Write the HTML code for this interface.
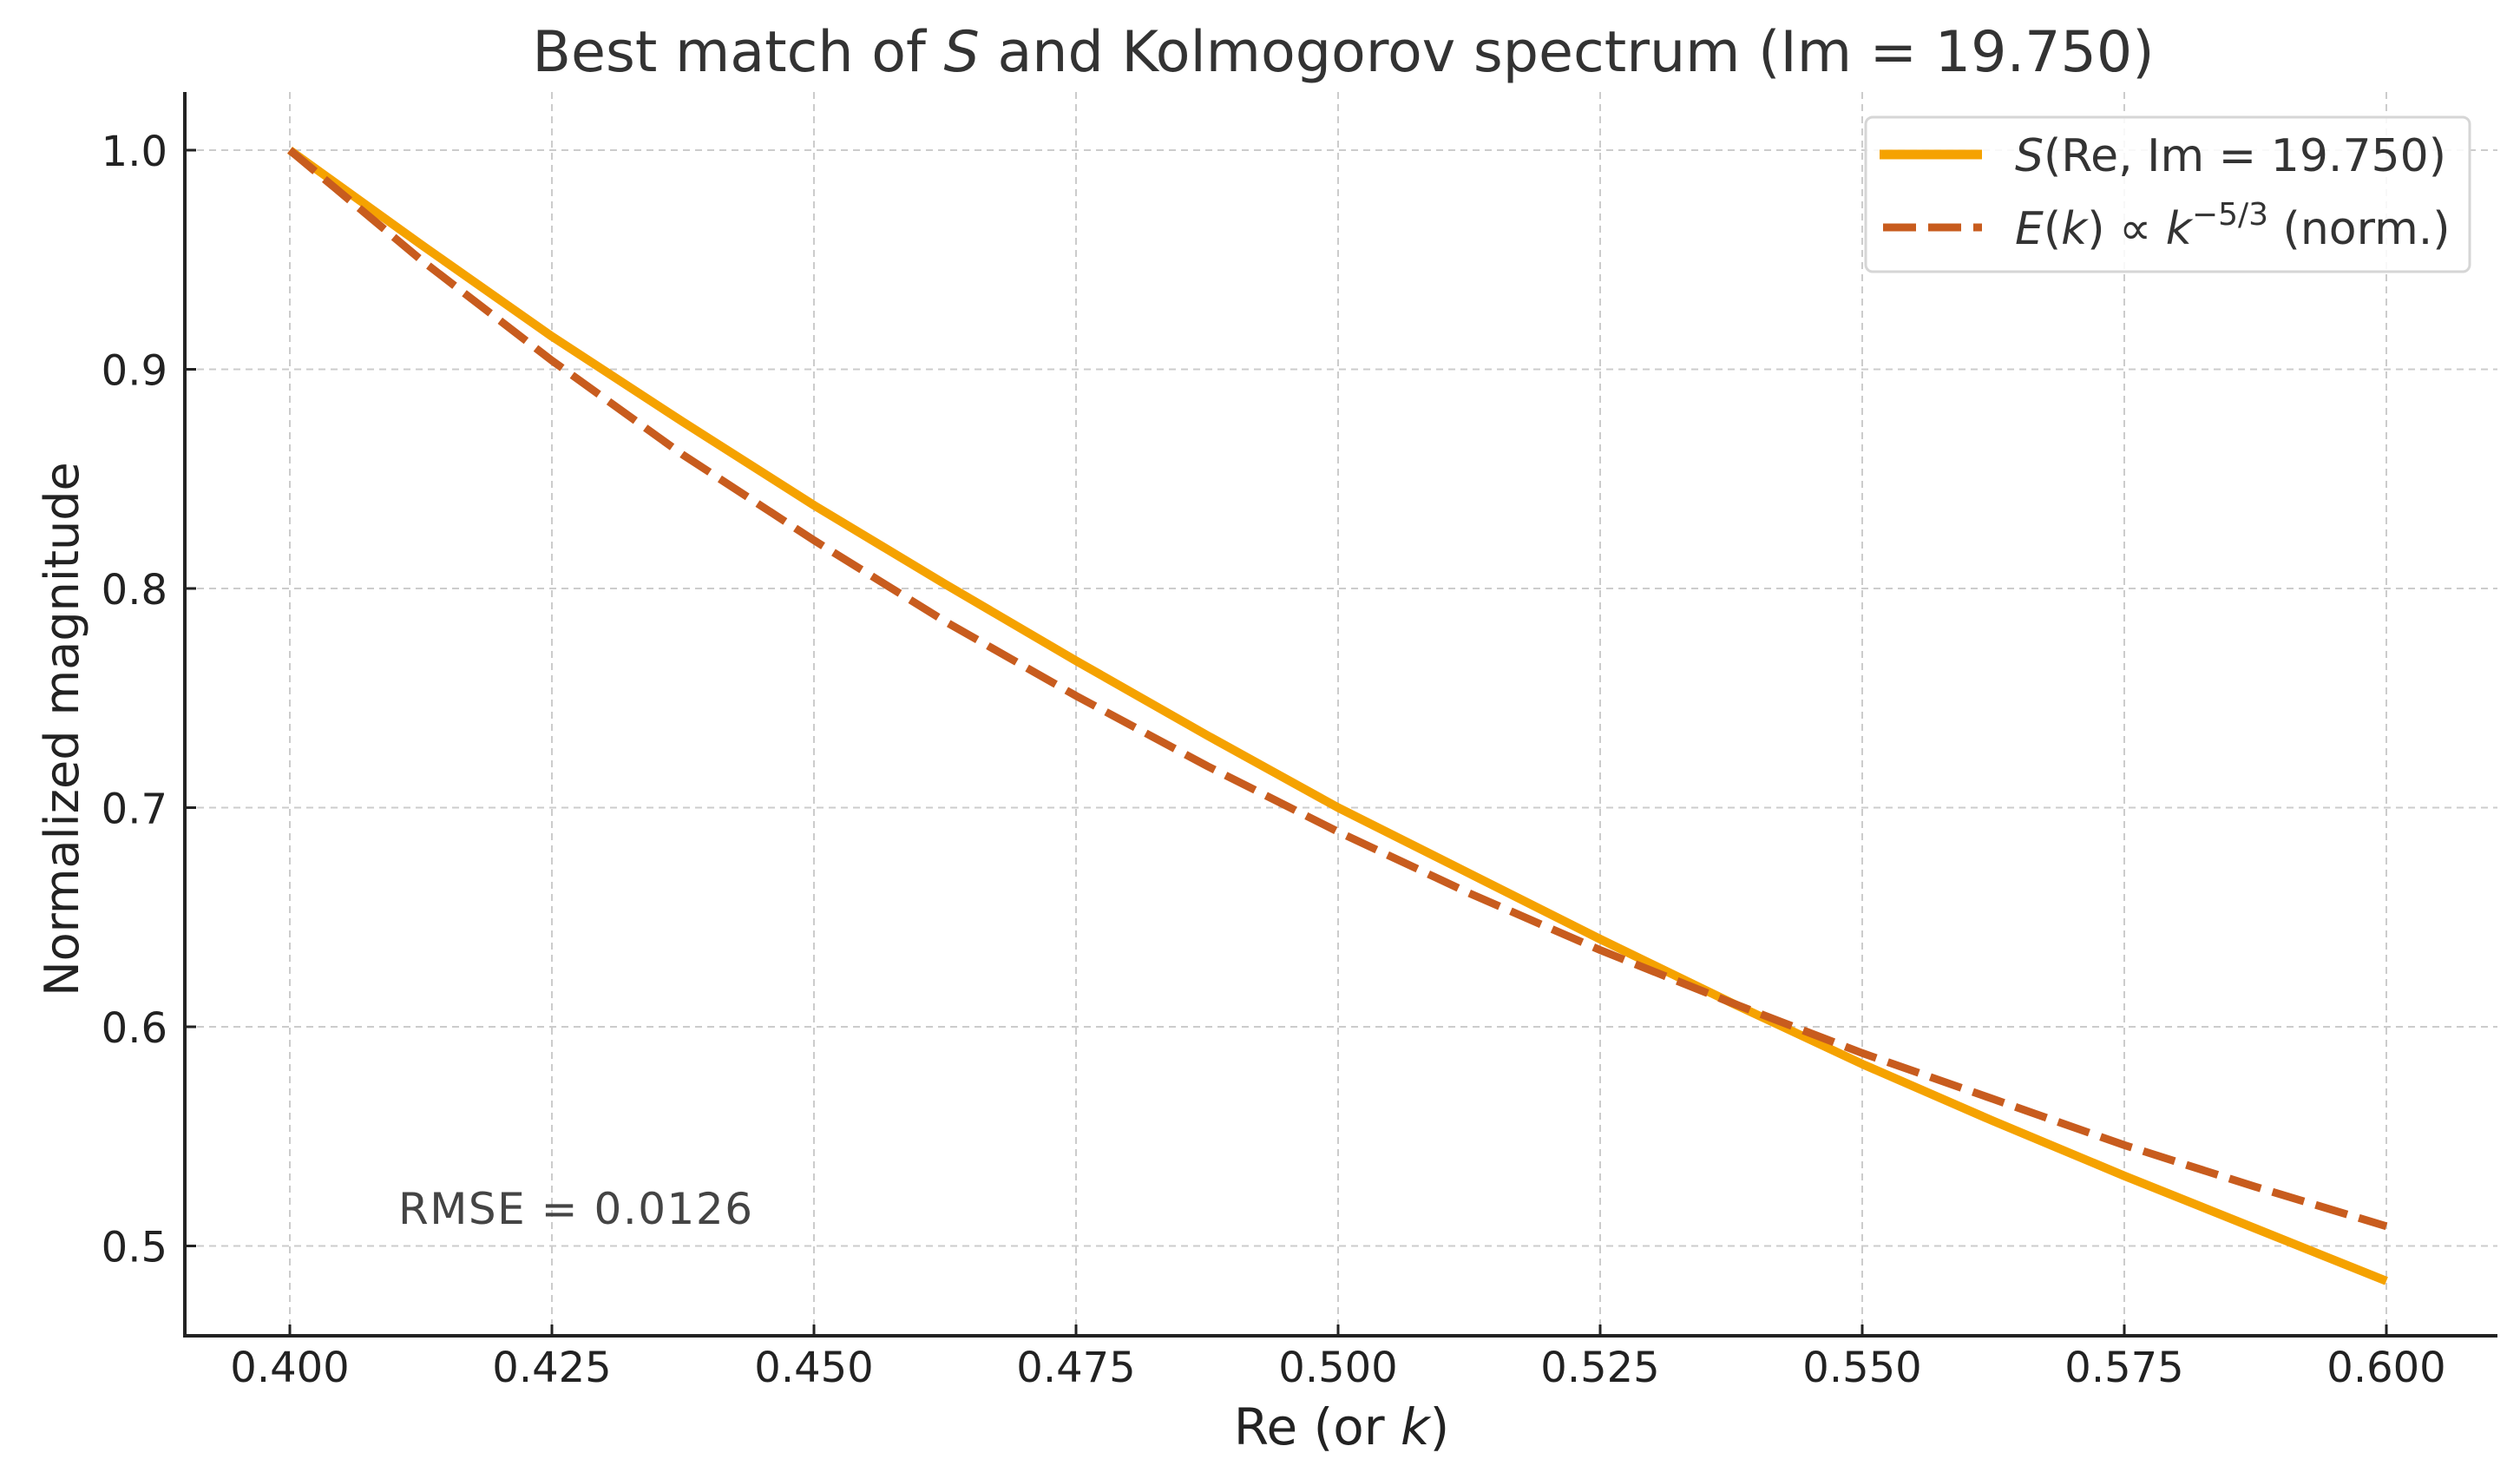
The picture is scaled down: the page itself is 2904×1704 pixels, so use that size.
<!DOCTYPE html>
<html><head><meta charset="utf-8"><style>
html,body{margin:0;padding:0;background:#fff;}
svg{display:block;font-family:"DejaVu Sans","Liberation Sans",sans-serif;}
</style></head><body>
<svg id="chart" width="2904" height="1704" viewBox="0 0 2904 1704" xmlns="http://www.w3.org/2000/svg">
<rect width="2904" height="1704" fill="#fff"/>
<g id="grid"></g>
<g id="series"></g>
<g id="axes"></g>
<text x="1548" y="82" text-anchor="middle" font-size="65" fill="#333">Best match of <tspan font-style="italic">S</tspan> and Kolmogorov spectrum (Im = 19.750)</text>
<text x="1546" y="1664" text-anchor="middle" font-size="58" fill="#222">Re (or <tspan font-style="italic">k</tspan>)</text>
<text transform="translate(90,840) rotate(-90)" text-anchor="middle" font-size="54" fill="#222">Normalized magnitude</text>
<text x="459" y="1410" font-size="50" fill="#444" textLength="408">RMSE = 0.0126</text>
<g>
<rect x="2150" y="135" width="696" height="178" rx="8" fill="#fff" fill-opacity="0.85" stroke="#d6d6d6" stroke-width="3"/>
<line x1="2166" y1="178" x2="2284" y2="178" stroke="#F5A200" stroke-width="11"/>
<text x="2322" y="197" font-size="52" fill="#333"><tspan font-style="italic">S</tspan>(Re, Im = 19.750)</text>
<line x1="2170" y1="262" x2="2284" y2="262" stroke="#C85C1E" stroke-width="9" stroke-dasharray="38,14"/>
<text x="2322" y="281" font-size="52" fill="#333"><tspan font-style="italic">E</tspan>(<tspan font-style="italic">k</tspan>) ∝ <tspan font-style="italic">k</tspan><tspan font-size="36" dy="-22">−5/3</tspan><tspan dy="22"> (norm.)</tspan></text>
</g>
</svg>
<script>
const xs = [0.4,0.4125,0.425,0.4375,0.45,0.4625,0.475,0.4875,0.5,0.5125,0.525,0.5375,0.55,0.5625,0.575,0.5875,0.6];
const sValues = [1.0,0.957,0.915,0.876,0.838,0.802,0.767,0.733,0.700,0.670,0.640,0.611,0.583,0.557,0.532,0.508,0.484];
const eValues = [1.0,0.950,0.904,0.861,0.822,0.785,0.751,0.719,0.689,0.661,0.635,0.611,0.588,0.567,0.546,0.527,0.509];
const xTicks = [0.4,0.425,0.45,0.475,0.5,0.525,0.55,0.575,0.6];
const xTickLabels = ["0.400","0.425","0.450","0.475","0.500","0.525","0.550","0.575","0.600"];
const yTicks = [0.5,0.6,0.7,0.8,0.9,1.0];
const yTickLabels = ["0.5","0.6","0.7","0.8","0.9","1.0"];

const NS = "http://www.w3.org/2000/svg";
const L = 213, R = 2878, T = 106, B = 1539;
function xScale(v){ return 334 + (v - 0.4) / 0.2 * 2416; }
function yScale(v){ return 173 + (1.0 - v) / 0.1 * 252.5; }
function mk(tag, attrs, parent){
  const el = document.createElementNS(NS, tag);
  for (const k in attrs) el.setAttribute(k, attrs[k]);
  parent.appendChild(el);
  return el;
}
const grid = document.getElementById('grid');
const axes = document.getElementById('axes');
const series = document.getElementById('series');

xTicks.forEach((t, i) => {
  const x = xScale(t);
  const g = mk('line', {x1:x, y1:T, x2:x, y2:B, stroke:'#cccccc', 'stroke-width':2, 'stroke-dasharray':'8,6'}, grid);
  
  
  const tk = mk('line', {x1:x, y1:B, x2:x, y2:B-13, stroke:'#222', 'stroke-width':3}, axes);
  
  
  const lb = mk('text', {x:x, y:1592, 'text-anchor':'middle', 'font-size':48, fill:'#222'}, axes);
  lb.textContent = xTickLabels[i];
  
  
});
yTicks.forEach((t, i) => {
  const y = yScale(t);
  const g = mk('line', {x1:L, y1:y, x2:R, y2:y, stroke:'#cccccc', 'stroke-width':2, 'stroke-dasharray':'8,6'}, grid);
  
  
  const tk = mk('line', {x1:L, y1:y, x2:L+13, y2:y, stroke:'#222', 'stroke-width':3}, axes);
  
  
  const lb = mk('text', {x:193, y:y+18, 'text-anchor':'end', 'font-size':48, fill:'#222'}, axes);
  lb.textContent = yTickLabels[i];
  
  
});
const sp1 = mk('line', {x1:L, y1:T, x2:L, y2:B+2, stroke:'#222', 'stroke-width':4}, axes);


const sp2 = mk('line', {x1:L-2, y1:B, x2:R, y2:B, stroke:'#222', 'stroke-width':4}, axes);



function pts(vals){ return xs.map((x, i) => xScale(x).toFixed(1) + ',' + yScale(vals[i]).toFixed(1)).join(' '); }
const sLine = mk('polyline', {points:pts(sValues), fill:'none', stroke:'#F5A200', 'stroke-width':10, 'stroke-linejoin':'round'}, series);


const eLine = mk('polyline', {points:pts(eValues), fill:'none', stroke:'#C85C1E', 'stroke-width':9, 'stroke-dasharray':'38,14'}, series);


</script>
</body></html>
